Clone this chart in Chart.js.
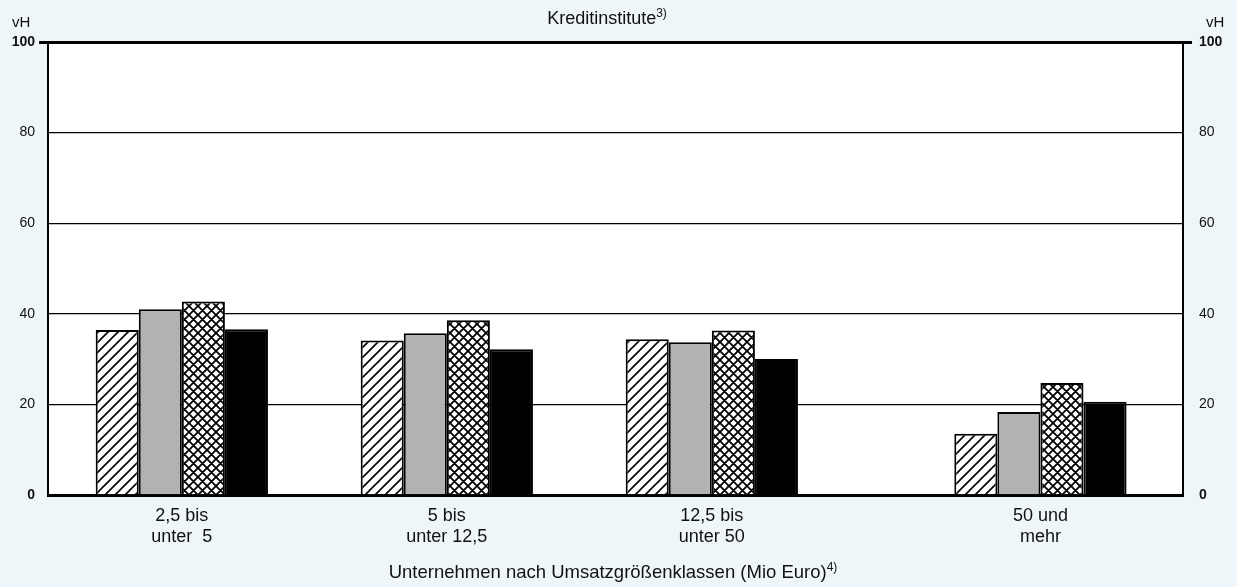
<!DOCTYPE html>
<html>
<head>
<meta charset="utf-8">
<script src="https://cdn.jsdelivr.net/npm/chart.js@4.4.1/dist/chart.umd.min.js"></script>
<style>
  body { margin: 0; background: #eef6f9; }
  #wrap { width: 1237px; height: 587px; }
</style>
</head>
<body>
<div id="wrap"><canvas id="chart"></canvas></div>
<script>
// Daten (vH)
var categories = [['2,5 bis', 'unter  5'], ['5 bis', 'unter 12,5'], ['12,5 bis', 'unter 50'], ['50 und', 'mehr']];
var serie1 = [36.4, 34.1, 34.4, 13.5];
var serie2 = [41.0, 35.7, 33.7, 18.3];
var serie3 = [42.7, 38.6, 36.3, 24.7];
var serie4 = [36.6, 32.2, 30.0, 20.6];
var yTicks = [0, 20, 40, 60, 80, 100];

// x-Positionen der Gruppen (letzte Gruppe etwas abgesetzt)
var groupPos = [0, 1, 2, 3.24];

var FONT = '"Liberation Sans", Arial, sans-serif';

// Muster fuer die Balken
function hatch() {
    var c = document.createElement('canvas');
    c.width = 10; c.height = 10;
    var g = c.getContext('2d');
    g.fillStyle = '#fff';
    g.fillRect(0, 0, 10, 10);
    g.strokeStyle = '#000';
    g.lineWidth = 1.6;
    g.beginPath();
    g.moveTo(-2, 12); g.lineTo(12, -2);
    g.moveTo(-2, 2); g.lineTo(2, -2);
    g.moveTo(8, 12); g.lineTo(12, 8);
    g.stroke();
    return g.createPattern(c, 'repeat');
}

function cross() {
    var c = document.createElement('canvas');
    c.width = 9; c.height = 9;
    var g = c.getContext('2d');
    g.fillStyle = '#fff';
    g.fillRect(0, 0, 9, 9);
    g.strokeStyle = '#000';
    g.lineWidth = 1.8;
    g.beginPath();
    g.moveTo(-2, 11); g.lineTo(11, -2);
    g.moveTo(-2, 2); g.lineTo(2, -2);
    g.moveTo(7, 11); g.lineTo(11, 7);
    g.moveTo(-2, -2); g.lineTo(11, 11);
    g.moveTo(-2, 7); g.lineTo(2, 11);
    g.moveTo(7, -2); g.lineTo(11, 2);
    g.stroke();
    return g.createPattern(c, 'repeat');
}

function points(arr) {
    return arr.map(function (v, i) { return { x: groupPos[i], y: v }; });
}

// Hintergrund, Titel, Einheiten
var decor = {
    id: 'decor',
    beforeDraw: function (chart) {
        var g = chart.ctx, a = chart.chartArea;
        g.save();
        g.fillStyle = '#eef6f9';
        g.fillRect(0, 0, chart.width, chart.height);
        g.fillStyle = '#fff';
        g.fillRect(a.left, a.top, a.right - a.left, a.bottom - a.top);
        g.restore();
    },
    afterDraw: function (chart) {
        var g = chart.ctx;
        g.save();
        g.fillStyle = '#111';
        g.textBaseline = 'alphabetic';

        function supText(main, sup, cx, y, size) {
            g.font = size + 'px ' + FONT;
            var w1 = g.measureText(main).width;
            g.font = '12px ' + FONT;
            var w2 = g.measureText(sup).width;
            var x0 = cx - (w1 + w2) / 2;
            g.font = size + 'px ' + FONT;
            g.textAlign = 'left';
            g.fillText(main, x0, y);
            g.font = '12px ' + FONT;
            g.fillText(sup, x0 + w1, y - 7);
        }
        supText('Kreditinstitute', '3)', 607, 24, 18);
        supText('Unternehmen nach Umsatzgrößenklassen (Mio Euro)', '4)', 613, 578, 18.5);

        g.font = '15px ' + FONT;
        g.textAlign = 'left';
        g.fillText('vH', 12, 27);
        g.fillText('vH', 1206, 27);
        g.restore();
    }
};

function tickFont(ctx) {
    var v = ctx.tick ? ctx.tick.value : null;
    return { family: FONT, size: 14, weight: (v === 0 || v === 100) ? 'bold' : 'normal' };
}

function yAxis(pos, width, onArea) {
    return {
        type: 'linear',
        position: pos,
        min: 0,
        max: 100,
        afterBuildTicks: function (axis) {
            axis.ticks = yTicks.map(function (v) { return { value: v }; });
        },
        afterFit: function (axis) { axis.width = width; },
        border: { display: true, color: '#000', width: 2 },
        grid: {
            drawOnChartArea: onArea,
            color: '#000',
            lineWidth: function (ctx) { return ctx.tick && ctx.tick.value === 100 ? 3 : 1.3; },
            drawTicks: true,
            tickLength: 9,
            tickWidth: 3,
            tickColor: function (ctx) { return ctx.tick && ctx.tick.value === 100 ? '#000' : 'rgba(0,0,0,0)'; }
        },
        ticks: {
            color: '#111',
            padding: pos === 'left' ? 4 : 7,
            font: tickFont,
            callback: function (v) { return v; }
        }
    };
}

var chart = new Chart(document.getElementById('chart'), {
    type: 'bar',
    data: {
        datasets: [
            { label: 'Reihe 1', data: points(serie1), backgroundColor: hatch(), borderColor: '#000', borderWidth: 2 },
            { label: 'Reihe 2', data: points(serie2), backgroundColor: '#b2b2b2', borderColor: '#000', borderWidth: 2 },
            { label: 'Reihe 3', data: points(serie3), backgroundColor: cross(), borderColor: '#000', borderWidth: 2 },
            { label: 'Reihe 4', data: points(serie4), backgroundColor: '#000', borderColor: '#000', borderWidth: 2 }
        ]
    },
    options: {
        responsive: true,
        maintainAspectRatio: false,
        animation: false,
        categoryPercentage: 0.65,
        barPercentage: 1.0,
        layout: { padding: { top: 42, left: 0, right: 0, bottom: 0 } },
        plugins: {
            legend: { display: false },
            title: { display: false },
            tooltip: { enabled: false }
        },
        scales: {
            x: {
                type: 'linear',
                offset: false,
                min: -0.505,
                max: 3.778,
                afterBuildTicks: function (axis) {
                    axis.ticks = groupPos.map(function (v) { return { value: v }; });
                },
                afterFit: function (axis) { axis.height = 92; },
                border: { display: true, color: '#000', width: 3 },
                grid: { display: false, drawTicks: false, offset: false },
                ticks: {
                    autoSkip: false,
                    maxRotation: 0,
                    padding: 10,
                    color: '#111',
                    font: { family: FONT, size: 18, lineHeight: 1.2 },
                    callback: function (v, i) { return categories[i]; }
                }
            },
            y: yAxis('left', 48, true),
            y2: yAxis('right', 54, false)
        }
    },
    plugins: [decor]
});
</script>
</body>
</html>
